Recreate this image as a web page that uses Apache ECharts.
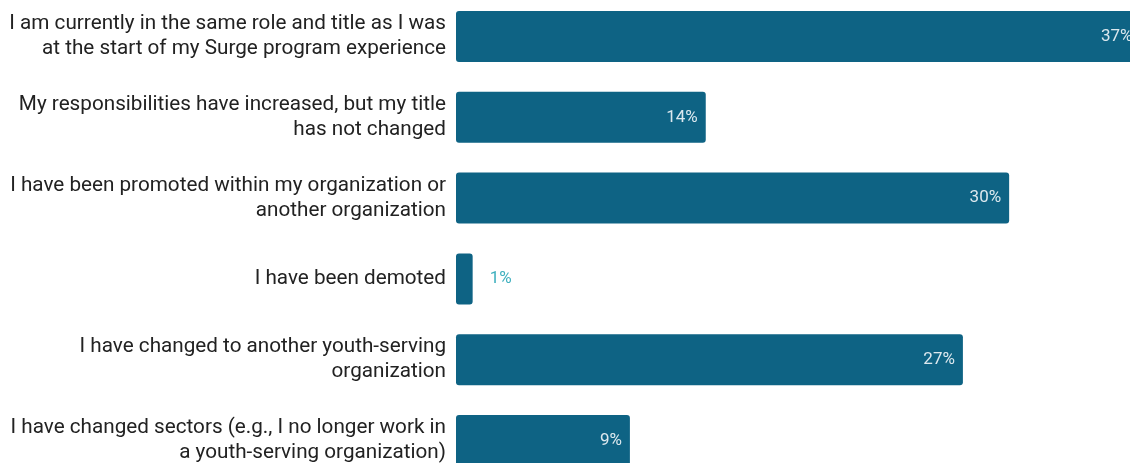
<!DOCTYPE html>
<html>
<head>
<meta charset="utf-8">
<script src="https://cdn.jsdelivr.net/npm/echarts@6/dist/echarts.min.js"></script>
<style>
  html, body { margin: 0; padding: 0; background: #ffffff; }
  #chart { width: 1130px; height: 463px; }
</style>
</head>
<body>
<div id="chart"></div>
<script>
// Survey responses: change in role since the Surge program
const categories = [
  'I am currently in the same role and title as I was\nat the start of my Surge program experience',
  'My responsibilities have increased, but my title\nhas not changed',
  'I have been promoted within my organization or\nanother organization',
  'I have been demoted',
  'I have changed to another youth-serving\norganization',
  'I have changed sectors (e.g., I no longer work in\na youth-serving organization)'
];
// Share of respondents, percent
const shares = [37.0, 13.5, 29.9, 0.9, 27.4, 9.4];

const barColor = '#0e6384';
const insideLabel = { show: true, position: 'insideRight', distance: 8, color: '#dce8ee', fontSize: 17, fontFamily: 'Roboto' };
const outsideLabel = { show: true, position: 'right', distance: 17, color: '#3fb0bf', fontSize: 17, fontFamily: 'Roboto' };

const seriesData = shares.map(v => ({
  value: v,
  label: v < 5 ? outsideLabel : insideLabel
}));

const chart = echarts.init(document.getElementById('chart'), null, { renderer: 'canvas' });
chart.setOption({
  animation: false,
  backgroundColor: '#ffffff',
  grid: { left: 456, top: -4, height: 485, width: 740, containLabel: false, outerBoundsMode: 'none' },
  xAxis: {
    type: 'value', min: 0, max: 40, show: false
  },
  yAxis: {
    type: 'category',
    inverse: true,
    data: categories,
    axisLine: { show: false },
    axisTick: { show: false },
    axisLabel: {
      margin: 10,
      color: '#222222',
      fontSize: 20.7,
      lineHeight: 25,
      fontFamily: 'Roboto',
      align: 'right'
    }
  },
  series: [{
    type: 'bar',
    data: seriesData,
    barWidth: 51,
    itemStyle: { color: barColor, borderRadius: 3 },
    label: {
      formatter: p => Math.round(p.value) + '%'
    }
  }]
});
</script>
</body>
</html>
